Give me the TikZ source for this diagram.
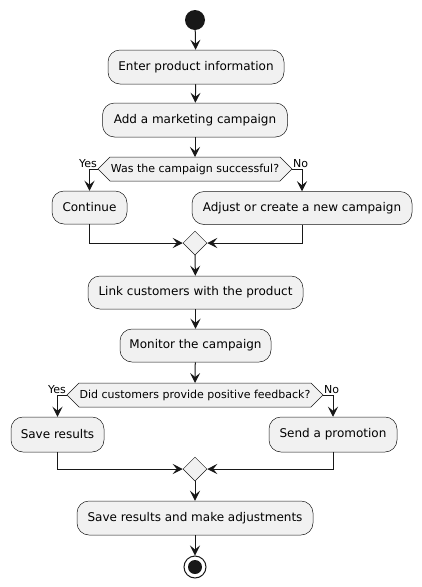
\documentclass[tikz,border=0pt]{standalone}
\usepackage{fontspec}
\setmainfont{DejaVu Sans}
\usetikzlibrary{arrows.meta,shapes.geometric}
\definecolor{bgc}{HTML}{F1F1F1}
\definecolor{lnc}{HTML}{181818}
\tikzset{
  act/.style={draw=lnc, fill=bgc, rounded corners=12pt, line width=0.5pt,
    minimum height=34pt, inner sep=0pt, font=\fontsize{12}{14}\selectfont},
  hexbox/.style={draw=lnc, fill=bgc, line width=0.5pt},
  qtext/.style={inner sep=0pt, font=\fontsize{11}{13}\selectfont},
  lbl/.style={inner sep=1pt, font=\fontsize{11}{13}\selectfont},
  merge/.style={diamond, draw=lnc, fill=bgc, line width=0.5pt, minimum size=24pt, inner sep=0pt},
  flow/.style={draw=lnc, line width=1pt, -{Stealth[length=10pt,width=10pt,inset=4pt]}},
  plain/.style={draw=lnc, line width=1pt}
}
\begin{document}
\begin{tikzpicture}[x=1pt,y=-1pt]
\useasboundingbox (0,0) rectangle (421,587);
% start
\node[circle, fill=lnc, minimum size=20pt, inner sep=0pt] (start) at (195,20) {};
\node[act, minimum width=176pt] (b1) at (196,67) {Enter product information};
\node[act, minimum width=185pt] (b2) at (195,120) {Add a marketing campaign};
% decision 1
\coordinate (d1l) at (98,169);
\coordinate (d1r) at (292,169);
\coordinate (d1t) at (195,157);
\draw[hexbox] (d1l) -- (110,157) -- (280,157) -- (d1r) -- (280,181) -- (110,181) -- cycle;
\node[qtext] (q1) at (195,169) {Was the campaign successful?};
\node[act, minimum width=75pt, minimum height=33pt] (cont) at (89.5,207.5) {Continue};
\node[act, minimum width=220pt, minimum height=33pt] (adj) at (302,208) {Adjust or create a new campaign};
\node[merge] (m1) at (195,243) {};
\node[act, minimum width=215pt, minimum height=33pt] (b3) at (195.5,292.5) {Link customers with the product};
\node[act, minimum width=151pt, minimum height=33pt] (b4) at (195.5,345.5) {Monitor the campaign};
% decision 2
\coordinate (d2l) at (67,395);
\coordinate (d2r) at (323,395);
\coordinate (d2t) at (195,383);
\draw[hexbox] (d2l) -- (79,383) -- (311,383) -- (d2r) -- (311,407) -- (79,407) -- cycle;
\node[qtext] (q2) at (195,395) {Did customers provide positive feedback?};
\node[act, minimum width=93pt, minimum height=35pt] (save) at (57.5,434.5) {Save results};
\node[act, minimum width=128pt, minimum height=35pt] (send) at (333,434.5) {Send a promotion};
\node[merge] (m2) at (195,469) {};
\node[act, minimum width=236pt] (b5) at (195,518) {Save results and make adjustments};
% end
\node[circle, draw=lnc, fill=white, line width=1pt, minimum size=22pt, inner sep=0pt] (stop) at (195,567) {};
\node[circle, fill=lnc, minimum size=14pt, inner sep=0pt] (stopin) at (195,567) {};
% labels
\node[lbl, anchor=south east] (y1) at (d1l) {Yes};
\node[lbl, anchor=south west] (n1) at (d1r) {No};
\node[lbl, anchor=south east] (y2) at (d2l) {Yes};
\node[lbl, anchor=south west] (n2) at (d2r) {No};
% connectors
\draw[flow] (start) -- (b1);
\draw[flow] (b1) -- (b2);
\draw[flow] (b2) -- (d1t);
\draw[flow] (d1l) -| (cont.north);
\draw[flow] (d1r) -| (adj.north);
\draw[flow] (cont.south) |- (m1.west);
\draw[flow] (adj.south) |- (m1.east);
\draw[flow] (m1) -- (b3);
\draw[flow] (b3) -- (b4);
\draw[flow] (b4) -- (d2t);
\draw[flow] (d2l) -| (save.north);
\draw[flow] (d2r) -| (send.north);
\draw[flow] (save.south) |- (m2.west);
\draw[flow] (send.south) |- (m2.east);
\draw[flow] (m2) -- (b5);
\draw[flow] (b5) -- (stop);
\end{tikzpicture}
\end{document}
